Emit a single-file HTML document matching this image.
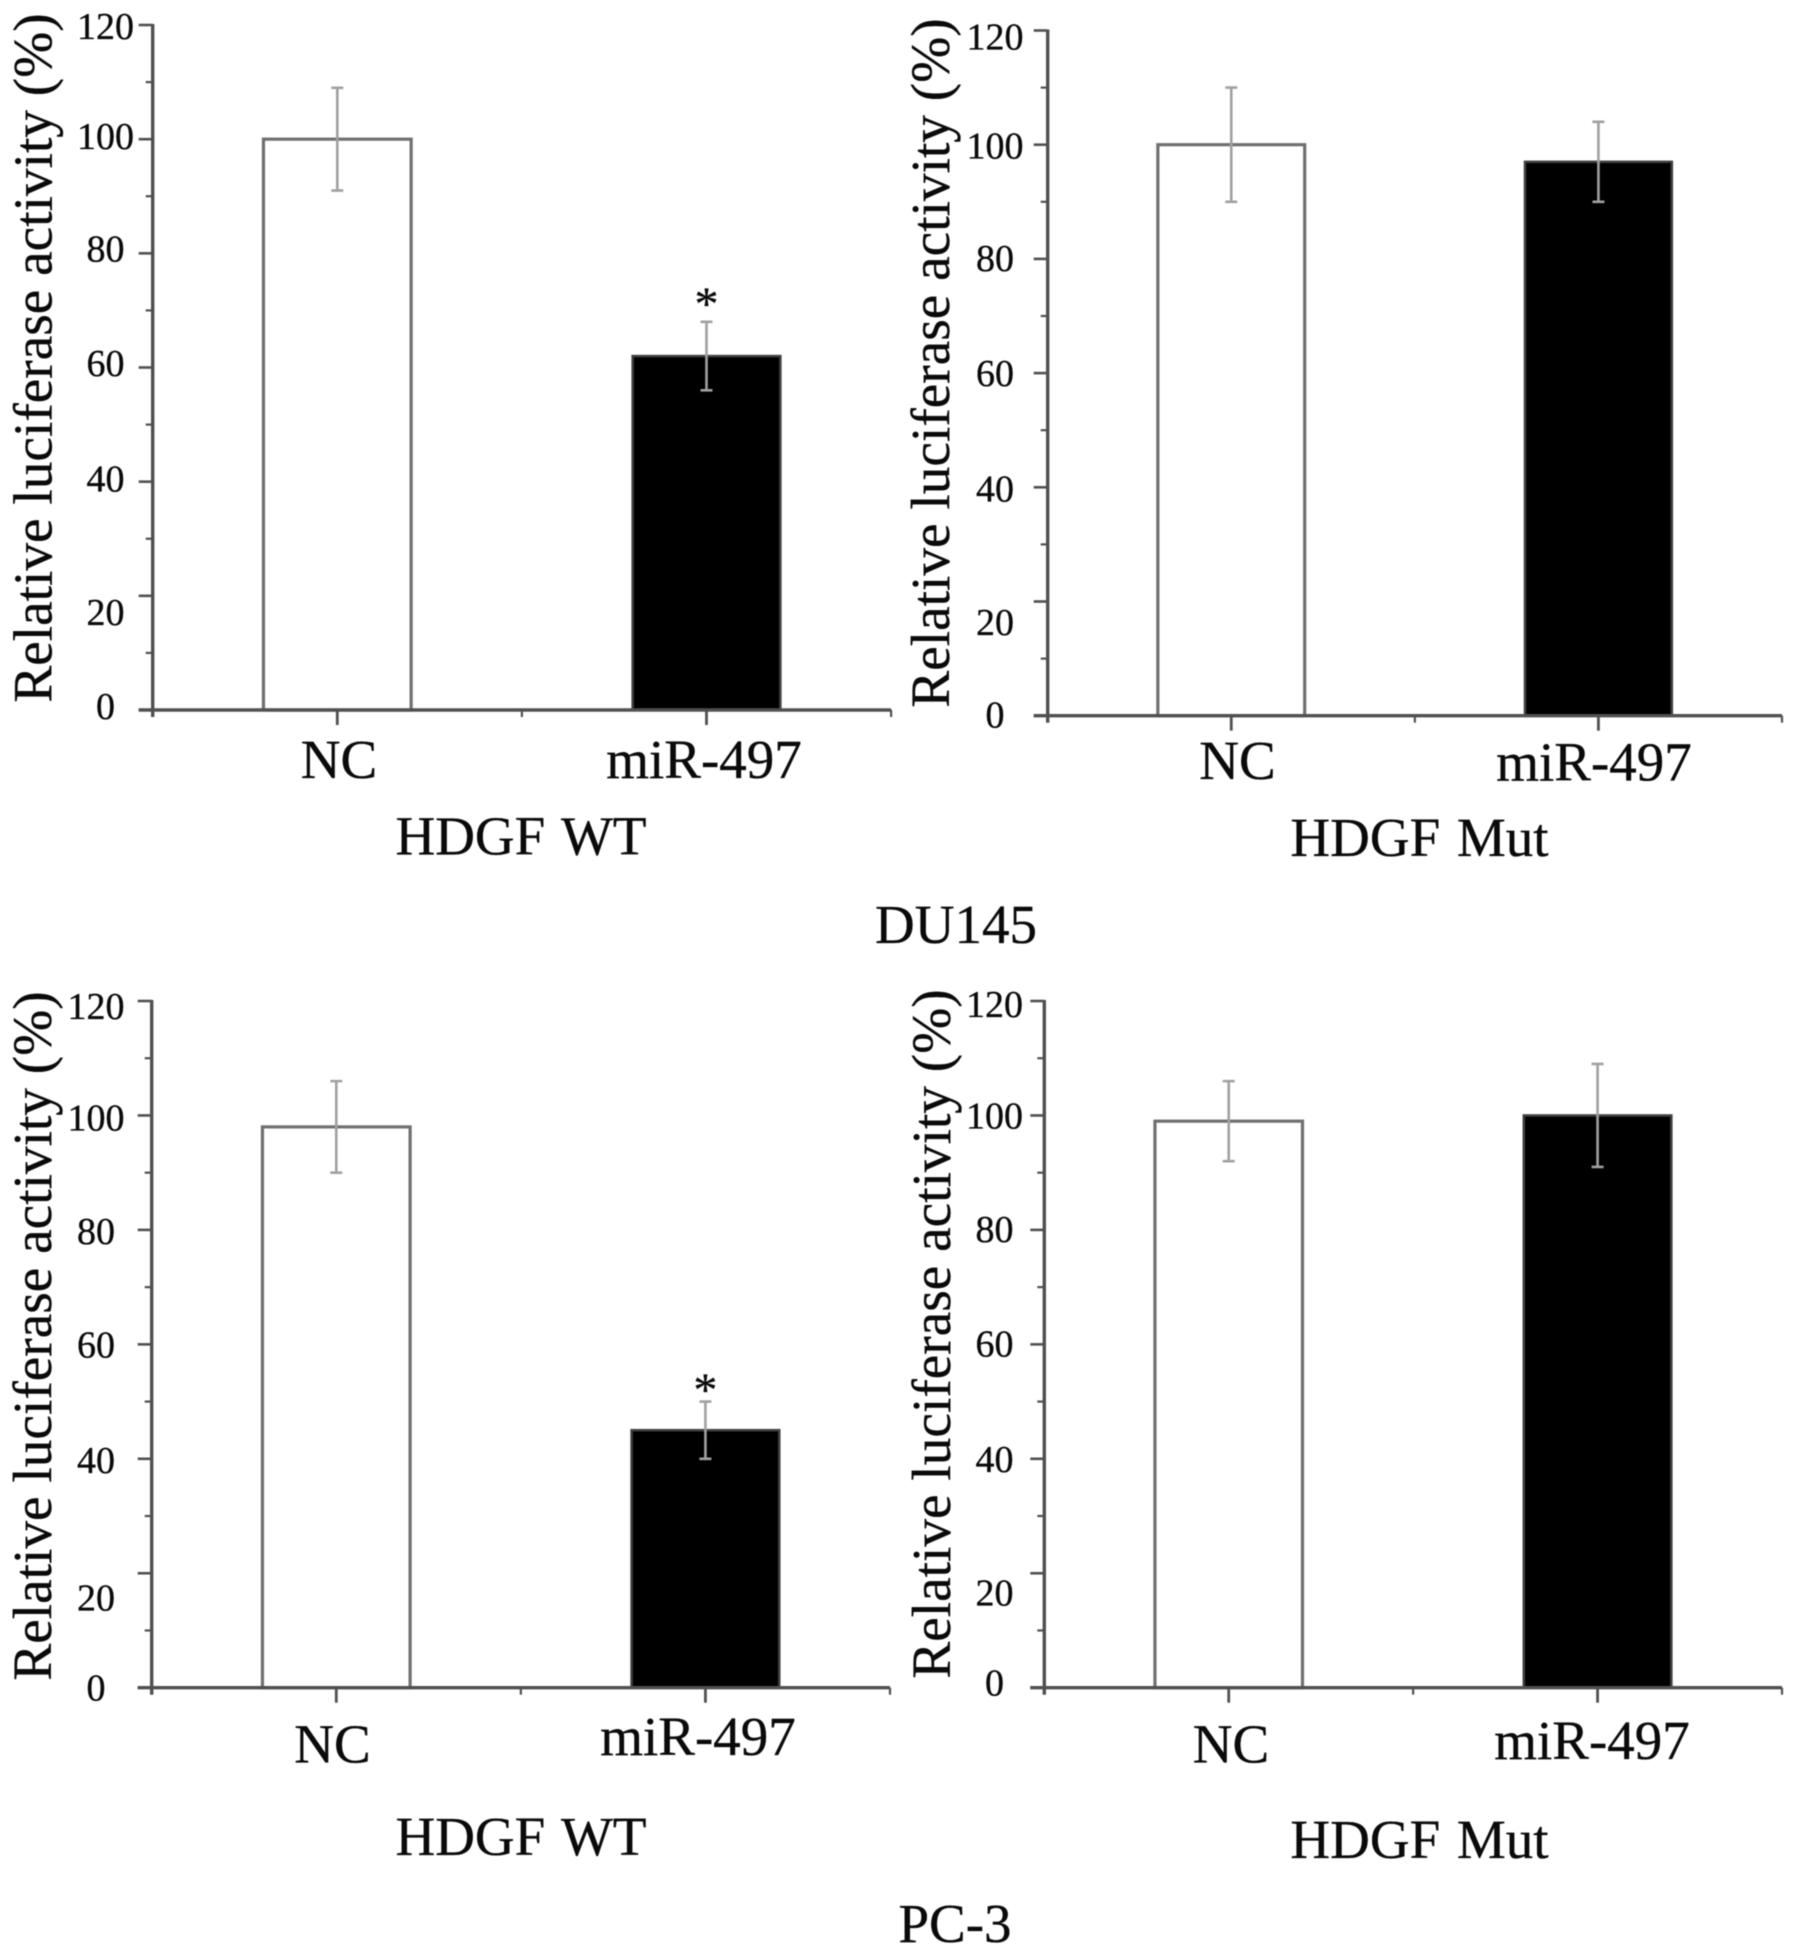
<!DOCTYPE html>
<html lang="en">
<head>
<meta charset="utf-8">
<title>Relative luciferase activity in DU145 and PC-3</title>
<style>
html,body{margin:0;padding:0;background:#fff;}
svg{display:block;filter:blur(0.6px);}
text{font-family:"Liberation Serif","DejaVu Serif",serif;fill:#0a0a0a;stroke:#0a0a0a;stroke-width:0.35px;}
</style>
</head>
<body>
<svg id="figure" xmlns="http://www.w3.org/2000/svg" width="1795" height="1956" viewBox="0 0 1795 1956">
<text x="956" y="943" font-size="55" text-anchor="middle">DU145</text>
<text x="955" y="1942" font-size="55" text-anchor="middle">PC-3</text>
</svg>
<script>
// Chart data
const categories = ['NC', 'miR-497'];
const yTickLabels = [0, 20, 40, 60, 80, 100, 120];
const yMinorTicks = [10, 30, 50, 70, 90, 110];
const du145WtValues = [100, 62];
const du145WtErrLow = [91, 56];
const du145WtErrHigh = [109, 68];
const du145WtStars = [false, true];
const du145MutValues = [100, 97];
const du145MutErrLow = [90, 90];
const du145MutErrHigh = [110, 104];
const du145MutStars = [false, false];
const pc3WtValues = [98, 45];
const pc3WtErrLow = [90, 40];
const pc3WtErrHigh = [106, 50];
const pc3WtStars = [false, true];
const pc3MutValues = [99, 100];
const pc3MutErrLow = [92, 91];
const pc3MutErrHigh = [106, 109];
const pc3MutStars = [false, false];

const SVG_NS = 'http://www.w3.org/2000/svg';
const figure = document.getElementById('figure');
const AXIS_COLOR = '#505050';
const Y_MAX = 120;

// Panel layout (geometry only, values come from the arrays above)
const panels = [
  {
    key: 'du145-wt', title: 'HDGF WT',
    values: du145WtValues, low: du145WtErrLow, high: du145WtErrHigh, stars: du145WtStars,
    left: 152.7, right: 891.1, top: 25, bottom: 710,
    titleX: 51.5, titleY: 358, labelX: 105.5,
    labelDy: {0: 9, 20: 29, 40: 10, 60: 8.5, 80: 8, 100: 10, 120: 14},
    catX: [339, 704], catY: [778, 778], groupX: 521, groupY: 854.5, starGap: 25
  },
  {
    key: 'du145-mut', title: 'HDGF Mut',
    values: du145MutValues, low: du145MutErrLow, high: du145MutErrHigh, stars: du145MutStars,
    left: 1047.7, right: 1782, top: 30.5, bottom: 715.7,
    titleX: 949, titleY: 363, labelX: 995,
    labelDy: {0: 12, 20: 33.5, 40: 14, 60: 13, 80: 12, 100: 14, 120: 19},
    catX: [1237.5, 1594], catY: [779, 780.7], groupX: 1419.5, groupY: 856, starGap: 25
  },
  {
    key: 'pc3-wt', title: 'HDGF WT',
    values: pc3WtValues, low: pc3WtErrLow, high: pc3WtErrHigh, stars: pc3WtStars,
    left: 151.7, right: 890, top: 1001, bottom: 1687.7,
    titleX: 51, titleY: 1336, labelX: 96,
    labelDy: {0: 13, 20: 37, 40: 14, 60: 13, 80: 14, 100: 15, 120: 18},
    catX: [332.5, 698], catY: [1762.7, 1755], groupX: 521, groupY: 1855, starGap: 18.6
  },
  {
    key: 'pc3-mut', title: 'HDGF Mut',
    values: pc3MutValues, low: pc3MutErrLow, high: pc3MutErrHigh, stars: pc3MutStars,
    left: 1044.3, right: 1782, top: 1001, bottom: 1687.7,
    titleX: 950, titleY: 1334, labelX: 994.5,
    labelDy: {0: 8, 20: 32, 40: 13, 60: 12, 80: 12, 100: 13, 120: 16},
    catX: [1231, 1592], catY: [1762.7, 1759], groupX: 1419.5, groupY: 1858, starGap: 25
  }
];

function mk(tag, attrs, parent) {
  const el = document.createElementNS(SVG_NS, tag);
  for (const k in attrs) el.setAttribute(k, attrs[k]);
  parent.appendChild(el);
  return el;
}

function drawPanel(p) {
  const g = mk('g', {}, figure);
  
  

  const yScale = v => p.bottom - (v / Y_MAX) * (p.bottom - p.top);
  const band = (p.right - p.left) / categories.length;
  const xCenter = i => p.left + band * (i + 0.5);
  const barW = band * 0.4;

  // Bars
  categories.forEach((cat, i) => {
    const y = yScale(p.values[i]);
    const bar = mk('rect', {
      x: xCenter(i) - barW / 2, y: y, width: barW, height: p.bottom - y,
      fill: i === 0 ? '#fff' : '#000',
      stroke: i === 0 ? '#707070' : '#404040',
      'stroke-width': i === 0 ? 3.2 : 2.5
    }, g);
    
    
  });

  // Error bars
  categories.forEach((cat, i) => {
    const cx = xCenter(i);
    const yLow = yScale(p.low[i]);
    const yHigh = yScale(p.high[i]);
    const err = mk('path', {
      d: 'M' + cx + ' ' + yHigh + 'V' + yLow +
         'M' + (cx - 6) + ' ' + yHigh + 'H' + (cx + 6) +
         'M' + (cx - 6) + ' ' + yLow + 'H' + (cx + 6),
      fill: 'none', stroke: '#a0a0a0', 'stroke-width': 2.6
    }, g);
    
    
    if (p.stars[i]) {
      const star = mk('text', {
        x: cx, y: yHigh - p.starGap + 23, 'font-size': 48, 'text-anchor': 'middle'
      }, g);
      star.textContent = '*';
      
      
    }
  });

  // Axes
  const yAxis = mk('line', {x1: p.left, x2: p.left, y1: p.top - 1, y2: p.bottom + 7, stroke: AXIS_COLOR, 'stroke-width': 3.4}, g);
  
  
  const xAxis = mk('line', {x1: p.left - 14, x2: p.right, y1: p.bottom, y2: p.bottom, stroke: AXIS_COLOR, 'stroke-width': 3.4}, g);
  
  

  // Y ticks and labels
  yTickLabels.forEach(v => {
    const y = yScale(v);
    const tick = mk('line', {x1: p.left - 14, x2: p.left, y1: y, y2: y, stroke: AXIS_COLOR, 'stroke-width': 2.6}, g);
    
    
    const label = mk('text', {
      x: p.labelX, y: y + p.labelDy[v], 'font-size': 38, 'text-anchor': 'middle'
    }, g);
    label.textContent = String(v);
    
    
  });
  yMinorTicks.forEach(v => {
    const y = yScale(v);
    const tick = mk('line', {x1: p.left - 7, x2: p.left, y1: y, y2: y, stroke: AXIS_COLOR, 'stroke-width': 2.2}, g);
    
    
  });

  // X ticks
  categories.forEach((cat, i) => {
    const cx = xCenter(i);
    const tick = mk('line', {x1: cx, x2: cx, y1: p.bottom, y2: p.bottom + 15, stroke: AXIS_COLOR, 'stroke-width': 2.8}, g);
    
    
    const label = mk('text', {x: p.catX[i], y: p.catY[i], 'font-size': 55, 'text-anchor': 'middle'}, g);
    label.textContent = cat;
    
    
  });
  [1, 2].forEach(n => {
    const x = p.left + band * n;
    const tick = mk('line', {x1: x, x2: x, y1: p.bottom, y2: p.bottom + 7, stroke: AXIS_COLOR, 'stroke-width': 2.2}, g);
    
    
  });

  // Titles
  const yTitle = mk('text', {
    x: 0, y: 0, 'font-size': 55.3, 'text-anchor': 'middle',
    transform: 'translate(' + p.titleX + ' ' + p.titleY + ') rotate(-90)'
  }, g);
  yTitle.textContent = 'Relative luciferase activity (%)';
  
  

  const group = mk('text', {x: p.groupX, y: p.groupY, 'font-size': 55, 'text-anchor': 'middle', 'word-spacing': 3}, g);
  group.textContent = p.title;
  
  
}

panels.forEach(drawPanel);
</script>
</body>
</html>
